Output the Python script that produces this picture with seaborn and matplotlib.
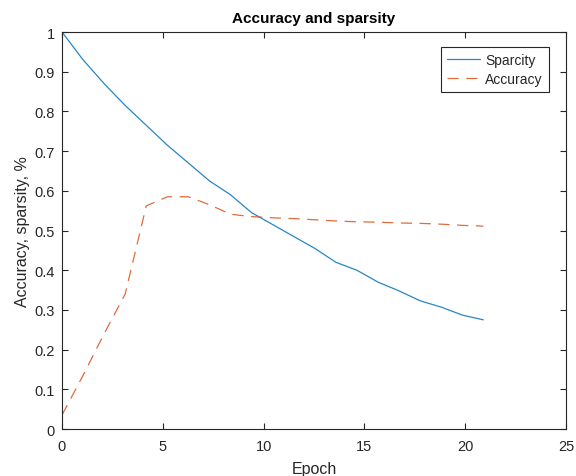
import matplotlib
matplotlib.use("Agg")
import matplotlib.pyplot as plt
import seaborn as sns
import pandas as pd
from matplotlib.ticker import FuncFormatter, MultipleLocator
from matplotlib.lines import Line2D

epochs = [0.0, 1.045, 2.09, 3.135, 4.18, 5.225, 6.27, 7.315, 8.36, 9.405, 10.45,
          11.495, 12.54, 13.585, 14.63, 15.675, 16.72, 17.765, 18.81, 19.855, 20.9]
sparsity = [1.0, 0.93, 0.87, 0.815, 0.765, 0.715, 0.67, 0.625, 0.59, 0.545, 0.515,
            0.485, 0.455, 0.42, 0.40, 0.37, 0.348, 0.323, 0.307, 0.287, 0.275]
accuracy = [0.035, 0.135, 0.24, 0.34, 0.562, 0.585, 0.585, 0.565, 0.541, 0.535, 0.532,
            0.53, 0.527, 0.524, 0.522, 0.521, 0.519, 0.518, 0.516, 0.513, 0.511]
series_names = ["Sparcity", "Accuracy"]

df = pd.DataFrame({
    "Epoch": epochs * 2,
    "value": sparsity + accuracy,
    "series": [series_names[0]] * len(epochs) + [series_names[1]] * len(epochs),
})

sns.set_style("white")
plt.rcParams['font.family'] = ['Liberation Sans', 'DejaVu Sans']

fig = plt.figure(figsize=(5.76, 4.77), dpi=100)
ax = fig.add_axes([0.1076, 0.0985, 0.875, 0.8323])

blue = (0.0, 0.447, 0.741)
orange = (0.85, 0.325, 0.098)
sns.lineplot(data=df, x="Epoch", y="value", hue="series", style="series",
             palette={series_names[0]: blue, series_names[1]: orange},
             dashes={series_names[0]: "", series_names[1]: (9, 6)},
             linewidth=0.9, alpha=0.85, ax=ax, legend=False)

ax.set_xlim(0, 25)
ax.set_ylim(0, 1)
ax.xaxis.set_major_locator(MultipleLocator(5))
ax.yaxis.set_major_locator(MultipleLocator(0.1))
fmt = FuncFormatter(lambda v, p: "%g" % round(v, 2))
ax.xaxis.set_major_formatter(fmt)
ax.yaxis.set_major_formatter(fmt)

axcol = (0.15, 0.15, 0.15)
for s in ax.spines.values():
    s.set_visible(True)
    s.set_color(axcol)
    s.set_linewidth(0.8)
ax.tick_params(direction="in", length=4, width=0.8, color=axcol, labelcolor=axcol,
               labelsize=10.5, top=True, right=True, bottom=True, left=True)
ax.tick_params(axis="x", pad=7)
ax.tick_params(axis="y", pad=5)

ax.set_title("Accuracy and sparsity", fontsize=11, fontweight="bold", color="black", pad=7)
ax.set_xlabel("Epoch", fontsize=11.5, color=axcol, labelpad=6)
ax.set_ylabel("Accuracy, sparsity, %", fontsize=11.5, color=axcol, labelpad=3)

handles = [Line2D([], [], color=blue, lw=0.9, alpha=0.85),
           Line2D([], [], color=orange, lw=0.9, alpha=0.85, dashes=(9, 6))]
leg = ax.legend(handles, series_names, loc="upper right", fontsize=10, frameon=True,
                fancybox=False, edgecolor=axcol, framealpha=1, handlelength=2.4,
                borderpad=0.45, labelspacing=0.35, handletextpad=0.35,
                borderaxespad=0, bbox_to_anchor=(0.966, 0.962))
leg.get_frame().set_linewidth(0.8)

fig.savefig("out.png", dpi=100)
